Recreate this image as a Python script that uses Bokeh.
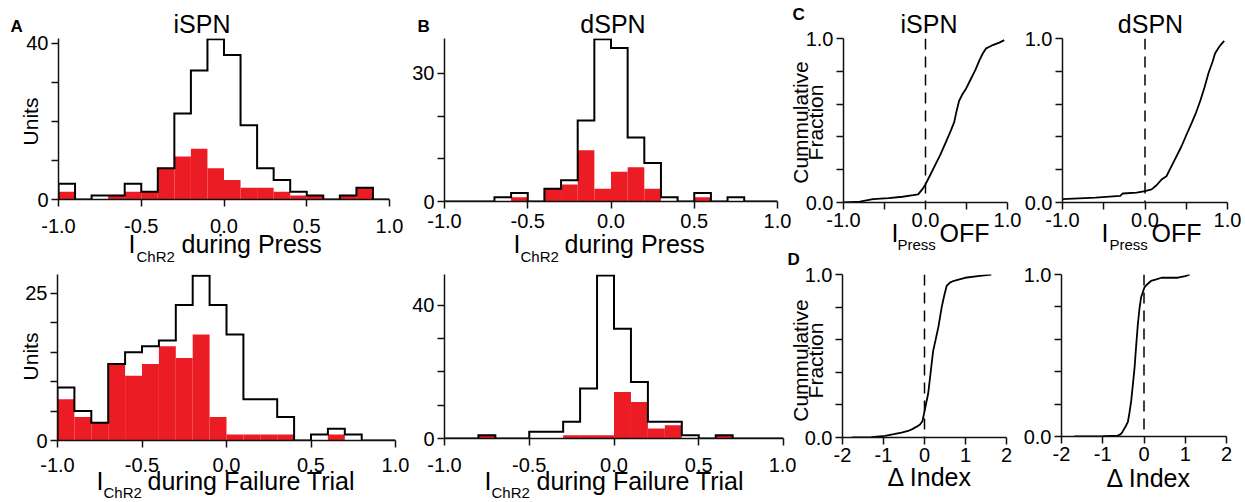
import math
import numpy as np
from bokeh.plotting import figure
from bokeh.layouts import column, row
from bokeh.models import FixedTicker, NumeralTickFormatter, Range1d, Span, ColumnDataSource
from bokeh.core.properties import value
from bokeh.embed import file_html
from bokeh.resources import INLINE

# ---------------- data ----------------
bin_lo, bin_hi, n_bins = -1.0, 1.0, 20

A_press_all = [4, 0, 1, 1, 4, 2, 8, 22, 33, 41, 37, 19, 8, 5, 2, 1, 0, 1, 3, 0]
A_press_red = [2, 0, 0, 1, 2, 2, 8, 11, 13, 8, 5, 3, 3, 2, 1, 1, 0, 1, 3, 0]
A_fail_all = [9, 5, 3, 13, 15, 16, 17, 23, 28, 23, 18, 7, 7, 4, 0, 1, 2, 1, 0, 0]
A_fail_red = [7, 4, 3, 13, 11, 13, 16, 14, 18, 4, 1, 1, 1, 1, 0, 0, 1, 0, 0, 0]
B_press_all = [0, 0, 0, 1, 2, 0, 3, 5, 19, 38, 36, 15, 9, 1, 0, 2, 0, 1, 0, 0]
B_press_red = [0, 0, 0, 0, 1, 0, 3, 4, 12, 3, 7, 8, 3, 0, 0, 1, 0, 0, 0, 0]
B_fail_all = [0, 0, 1, 0, 0, 2, 2, 5, 15, 49, 33, 17, 5, 5, 1, 0, 1, 0, 0, 0]
B_fail_red = [0, 0, 1, 0, 0, 0, 0, 1, 1, 1, 14, 11, 3, 4, 0, 0, 1, 0, 0, 0]

C_i_x = [-1.0, -0.8, -0.64, -0.45, -0.28, -0.15, -0.09, -0.04, 0.0, 0.05, 0.11, 0.18, 0.25,
         0.31, 0.35, 0.38, 0.41, 0.45, 0.49, 0.55, 0.61, 0.66, 0.70, 0.74, 0.78, 0.82, 0.90, 0.96]
C_i_y = [0.0, 0.005, 0.02, 0.027, 0.035, 0.045, 0.05, 0.08, 0.11, 0.16, 0.22, 0.29, 0.37,
         0.44, 0.49, 0.56, 0.62, 0.66, 0.69, 0.75, 0.81, 0.87, 0.91, 0.94, 0.95, 0.96, 0.975, 0.99]
C_d_x = [-1.0, -0.6, -0.3, -0.27, -0.1, 0.0, 0.08, 0.14, 0.2, 0.26, 0.3, 0.36, 0.44, 0.5,
         0.57, 0.62, 0.67, 0.72, 0.77, 0.82, 0.85, 0.9, 0.96]
C_d_y = [0.02, 0.03, 0.04, 0.055, 0.06, 0.07, 0.08, 0.105, 0.14, 0.16, 0.2, 0.26, 0.34, 0.41,
         0.49, 0.55, 0.62, 0.7, 0.79, 0.86, 0.91, 0.95, 0.985]
D_i_x = [-1.77, -1.3, -0.96, -0.75, -0.56, -0.4, -0.31, -0.2, -0.11, -0.05, 0.0, 0.04, 0.09,
         0.15, 0.21, 0.28, 0.34, 0.38, 0.42, 0.48, 0.54, 0.62, 0.70, 0.85, 0.99, 1.3, 1.63]
D_i_y = [0.0, 0.002, 0.01, 0.02, 0.03, 0.04, 0.05, 0.065, 0.08, 0.1, 0.16, 0.21, 0.27,
         0.40, 0.53, 0.61, 0.68, 0.74, 0.80, 0.87, 0.93, 0.95, 0.96, 0.97, 0.98, 0.99, 1.0]
D_d_x = [-1.69, -1.0, -0.64, -0.56, -0.52, -0.45, -0.39, -0.35, -0.31, -0.27, -0.23, -0.19,
         -0.15, -0.11, -0.07, 0.01, 0.08, 0.17, 0.3, 0.42, 0.6, 0.82, 1.0, 1.11]
D_d_y = [0.0, 0.002, 0.006, 0.015, 0.03, 0.06, 0.09, 0.15, 0.22, 0.32, 0.42, 0.56,
         0.69, 0.79, 0.86, 0.92, 0.94, 0.96, 0.97, 0.98, 0.98, 0.98, 0.99, 1.0]

hist_x_ticks = [-1.0, -0.5, 0.0, 0.5, 1.0]
cdf_c_x_ticks = [-1.0, 0.0, 1.0]
cdf_c_x_minor = [-0.5, 0.5]
cdf_d_x_ticks = [-2, -1, 0, 1, 2]
cdf_y_ticks = [0.0, 1.0]
cdf_y_minor = [0.2, 0.4, 0.6, 0.8]

RED = "#ec1c24"
FONT = "Liberation Sans"
PAGE_W, PAGE_H = 1235, 500


def mkfig(fw, fh, bl, br, bt, bb, xr, yr):
    p = figure(frame_width=fw, frame_height=fh, min_border_left=bl, min_border_right=br,
               min_border_top=bt, min_border_bottom=bb, x_range=Range1d(*xr),
               y_range=Range1d(*yr), output_backend="svg", toolbar_location=None, tools="",
               title=None)
    p.outline_line_color = None
    p.grid.visible = False
    p.background_fill_color = "white"
    p.border_fill_color = "white"
    return p


def style_axis(ax, ticks, minor, fmt, standoff):
    ax.ticker = FixedTicker(ticks=ticks, minor_ticks=minor)
    ax.formatter = NumeralTickFormatter(format=fmt)
    ax.major_tick_out = 7
    ax.major_tick_in = 0
    ax.minor_tick_out = 7
    ax.minor_tick_in = 0
    ax.axis_line_width = 1.5
    ax.axis_line_color = "#111111"
    ax.major_tick_line_width = 1.5
    ax.minor_tick_line_width = 1.5
    ax.major_tick_line_color = "#111111"
    ax.minor_tick_line_color = "#111111"
    ax.major_label_text_font = FONT
    ax.major_label_text_font_size = "20px"
    ax.major_label_text_color = "black"
    ax.major_label_standoff = standoff


def hist(p, all_counts, red_counts):
    edges = np.linspace(bin_lo, bin_hi, n_bins + 1)
    p.quad(left=edges[:-1], right=edges[1:], bottom=0, top=red_counts,
           fill_color=RED, line_color=None)
    xs = np.repeat(edges, 2)
    ys = np.concatenate([[0], np.repeat(np.array(all_counts, dtype=float), 2), [0]])
    p.line(xs, ys, line_color="black", line_width=2, line_join="miter")


def hist_panel(fw, fh, bl, br, bt, bb, ymax, ytop_tick, yminor, allc, redc, xstand):
    p = mkfig(fw, fh, bl, br, bt, bb, (bin_lo, bin_hi), (0, ymax))
    hist(p, allc, redc)
    style_axis(p.xaxis[0], hist_x_ticks, [], "0.0", xstand)
    style_axis(p.yaxis[0], [0, ytop_tick], yminor, "0", 3)
    return p


def cdf_panel(fw, fh, bl, br, bt, bb, xr, xt, xm, fmt, xs, ys, xstand):
    p = mkfig(fw, fh, bl, br, bt, bb, xr, (0, 1))
    p.add_layout(Span(location=0, dimension="height", line_color="black",
                      line_width=1.5, line_dash="11 7"))
    p.line(xs, ys, line_color="black", line_width=1.8)
    style_axis(p.xaxis[0], xt, xm, fmt, xstand)
    style_axis(p.yaxis[0], cdf_y_ticks, cdf_y_minor, "0.0", 3)
    return p


# ---------------- panels (top row 256 px tall, bottom row 244 px tall) ----------------
At = hist_panel(331, 161, 58, 20, 38, 57, 41.2, 40, [10, 20, 30], A_press_all, A_press_red, 12)
Bt = hist_panel(333, 163, 33, 15, 36, 57, 38.2, 30, [10, 20], B_press_all, B_press_red, 5)
Ci = cdf_panel(164, 164, 51, 14, 36, 56, (-1, 1), cdf_c_x_ticks, cdf_c_x_minor, "0.0",
               C_i_x, C_i_y, 3)
Cd = cdf_panel(165, 164, 37, 14, 35, 57, (-1, 1), cdf_c_x_ticks, cdf_c_x_minor, "0.0",
               C_d_x, C_d_y, 3)
Ab = hist_panel(338, 166, 57, 14, 12, 66, 28.2, 25, [5, 10, 15, 20], A_fail_all, A_fail_red, 10)
Bb = hist_panel(339, 164, 34, 13, 15, 65, 49.3, 40, [10, 20, 30], B_fail_all, B_fail_red, 12)
Di = cdf_panel(164, 163, 46, 14, 18, 63, (-2, 2), cdf_d_x_ticks, [], "0", D_i_x, D_i_y, 3)
Dd = cdf_panel(165, 162, 38, 13, 17, 65, (-2, 2), cdf_d_x_ticks, [], "0", D_d_x, D_d_y, 3)

# ---------------- text overlay (page pixel coordinates) ----------------
T = figure(width=PAGE_W, height=PAGE_H, min_border=0, x_range=Range1d(0, PAGE_W),
           y_range=Range1d(0, PAGE_H), x_axis_location=None, y_axis_location=None,
           output_backend="svg", toolbar_location=None, tools="", title=None)
T.background_fill_color = None
T.border_fill_color = None
T.outline_line_color = None
T.xgrid.grid_line_color = None
T.ygrid.grid_line_color = None
T.grid.visible = False
T.margin = (-PAGE_H, 0, 0, 0)


def texts(items, size, align="left", angle=0.0, bold=False, rotated=False):
    # items give the text baseline (horizontal text) or the centre (rotated text)
    shift = 0.0 if rotated else 0.35 * size
    src = ColumnDataSource(dict(x=[it[0] for it in items],
                                y=[PAGE_H - (it[1] - shift) for it in items],
                                t=[it[2] for it in items]))
    T.text(x="x", y="y", text="t", source=src, text_font=value(FONT),
           text_font_size=value(f"{size}px"), text_align=align, text_baseline="middle",
           angle=angle, text_color="black",
           text_font_style="bold" if bold else "normal")


# panel letters
texts([(10, 32, "A"), (417, 32, "B"), (792, 20, "C"), (787, 265, "D")], 17, bold=True)
# titles
texts([(201.5, 32, "iSPN"), (612.5, 32, "dSPN"), (928.5, 32, "iSPN"), (1150, 32, "dSPN")],
      25, align="center")
# y axis labels
texts([(30, 121, "Units"), (30, 356, "Units"),
       (800, 122, "Cummulative"), (815, 122, "Fraction"),
       (800, 360, "Cummulative"), (815, 360, "Fraction")],
      21, align="center", angle=math.pi / 2, rotated=True)
# x axis labels: main parts
texts([(128, 252, "I"), (181, 252, "during Press"),
       (513, 252, "I"), (564, 252, "during Press"),
       (891, 241, "I"), (939, 241, "OFF"),
       (1101, 241, "I"), (1151, 241, "OFF"),
       (96, 489, "I"), (147, 489, "during Failure Trial"),
       (484, 489, "I"), (536, 489, "during Failure Trial")], 25)
# x axis labels: subscripts
texts([(136, 261, "ChR2"), (520, 261, "ChR2"), (897, 249, "Press"), (1109, 249, "Press"),
       (103, 497, "ChR2"), (491, 497, "ChR2")], 15)
texts([(929.5, 485, "\u0394 Index"), (1148.5, 486, "\u0394 Index")], 25, align="center")

layout = column(row(At, Bt, Ci, Cd), row(Ab, Bb, Di, Dd), T)
open("out.html", "w").write(file_html(layout, INLINE))
